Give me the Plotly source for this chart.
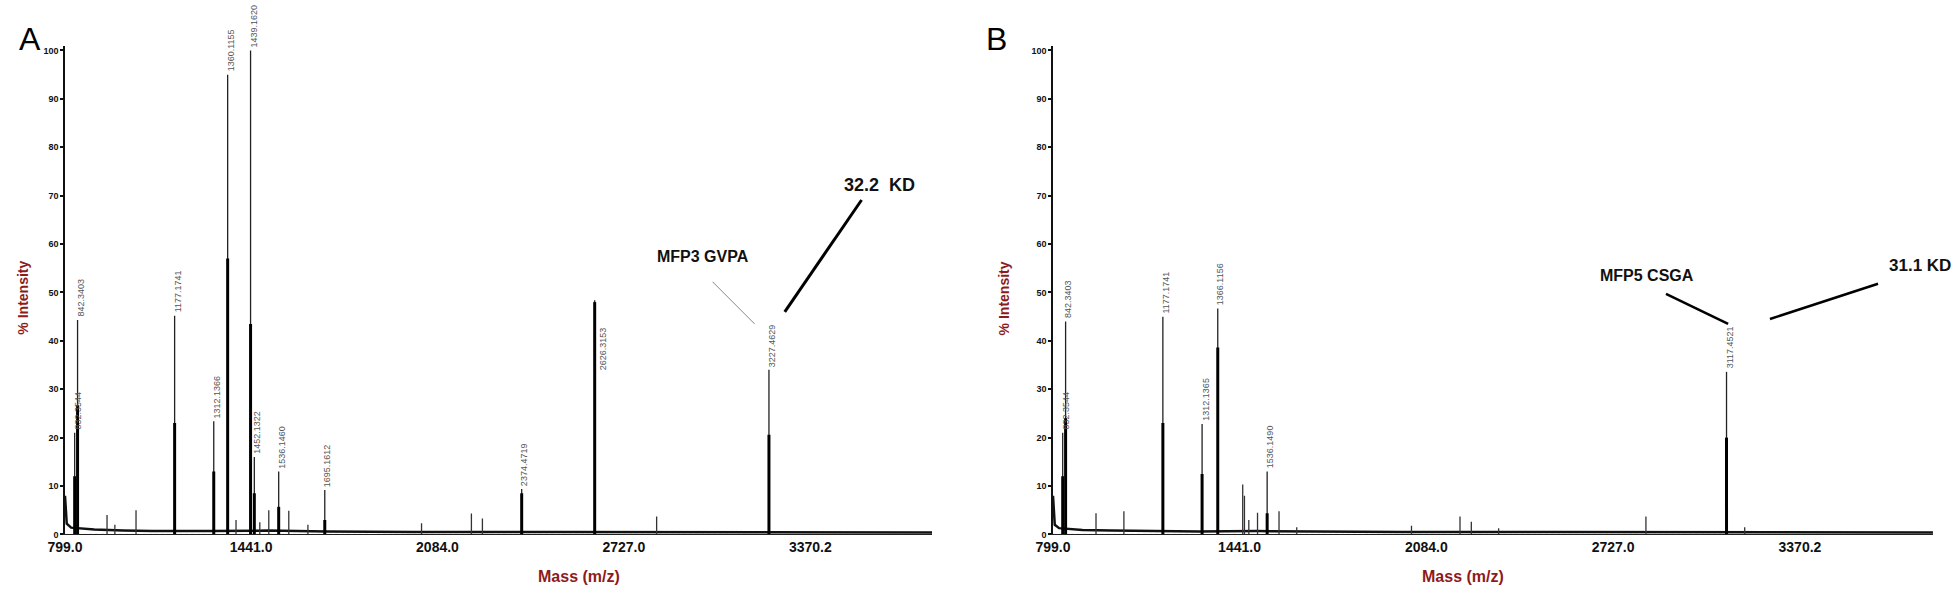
import plotly.graph_objects as go

# ---------------- data ----------------
# Panel A : labelled peaks (m/z, % intensity, intensity of thick core)
a_mass = [832.3544, 842.3403, 1177.1741, 1312.1366, 1360.1155, 1439.1620,
          1452.1322, 1536.1460, 1695.1612, 2374.4719, 2626.3153, 3227.4629]
a_height = [21, 44.3, 45.2, 23.4, 95, 100, 16, 13, 9.2, 9.4, 48.4, 34]
a_core = [12, 26.7, 23, 13, 57, 43.5, 8.5, 5.7, 3, 8.5, 48, 20.6]
a_labels = ["832.3544", "842.3403", "1177.1741", "1312.1366", "1360.1155",
            "1439.1620", "1452.1322", "1536.1460", "1695.1612", "2374.4719",
            "2626.3153", "3227.4629"]
# Panel A : small unlabelled peaks
a_minor_mass = [944, 971, 1044, 1389, 1471, 1502, 1571, 1637, 2029, 2201, 2239, 2840]
a_minor_height = [4, 2, 5, 3, 2.5, 5, 4.9, 2, 2.3, 4.3, 3.3, 3.7]

# Panel B
b_mass = [832.3544, 842.3403, 1177.1741, 1312.1365, 1366.1156, 1536.1490, 3117.4521]
b_height = [21, 44, 45, 22.8, 46.7, 13, 33.6]
b_core = [12, 24, 23, 12.5, 38.6, 4.4, 20]
b_labels = ["832.3544", "842.3403", "1177.1741", "1312.1365", "1366.1156",
            "1536.1490", "3117.4521"]
b_minor_mass = [947, 1043, 1452, 1458, 1473, 1503, 1577, 1638, 2033, 2200, 2239, 2333, 2840, 3180]
b_minor_height = [4.4, 4.8, 10.3, 8, 3, 4.5, 4.8, 1.5, 1.8, 3.7, 2.6, 1.3, 3.7, 1.5]

# baseline (chemical noise level)
base_mass = [799, 805, 820, 850, 900, 1000, 1100, 1300, 1500, 1700, 2000, 2500, 3000, 3500, 3830]
a_base = [8, 2.2, 1.4, 1.2, 1.0, 0.8, 0.7, 0.7, 0.8, 0.6, 0.5, 0.5, 0.5, 0.4, 0.4]
b_base = [8, 2.0, 1.3, 1.1, 0.9, 0.8, 0.7, 0.6, 0.7, 0.6, 0.5, 0.5, 0.5, 0.4, 0.4]

x_ticks = [799.0, 1441.0, 2084.0, 2727.0, 3370.2]
x_tick_text = ["799.0", "1441.0", "2084.0", "2727.0", "3370.2"]
y_ticks = [0, 10, 20, 30, 40, 50, 60, 70, 80, 90, 100]

# callouts: (text, text x, text y, line x0, y0, x1, y1, line width, line colour, font size)
a_callouts = [("MFP3 GVPA", 2999, 57.5, 3033, 52.2, 3178, 43.5, 1, "#888888", 16),
              ("32.2  KD", 3609, 72.2, 3547, 69.1, 3282, 46, 3, "#000000", 18)]
b_callouts = [("MFP5 CSGA", 2844, 53.5, 2909, 49.7, 3123, 43.5, 2.5, "#000000", 16),
              ("31.1 KD", 3784, 55.5, 3639, 51.8, 3267, 44.5, 2.5, "#000000", 17)]

RED = "#8e1b1b"

fig = go.Figure()


def stems(masses, heights):
    xs, ys = [], []
    for m, h in zip(masses, heights):
        xs += [m, m, None]
        ys += [0, h, None]
    return xs, ys


def add_panel(xa, ya, mass, height, core, minor_m, minor_h, base):
    fig.add_trace(go.Scatter(x=[base_mass[0], base_mass[-1]], y=[0, 0], mode="lines",
                             line=dict(color="#7a7fd0", width=1, dash="dot"),
                             xaxis=xa, yaxis=ya, hoverinfo="skip"))
    fig.add_trace(go.Scatter(x=base_mass, y=base, mode="lines",
                             line=dict(color="#111111", width=2.5),
                             xaxis=xa, yaxis=ya, hoverinfo="skip"))
    x, y = stems(minor_m, minor_h)
    fig.add_trace(go.Scatter(x=x, y=y, mode="lines", line=dict(color="#333333", width=1.3),
                             xaxis=xa, yaxis=ya, hoverinfo="skip"))
    x, y = stems(mass, height)
    fig.add_trace(go.Scatter(x=x, y=y, mode="lines", line=dict(color="#222222", width=1.3),
                             xaxis=xa, yaxis=ya, hoverinfo="skip"))
    x, y = stems(mass, core)
    fig.add_trace(go.Scatter(x=x, y=y, mode="lines", line=dict(color="#000000", width=3),
                             xaxis=xa, yaxis=ya, hoverinfo="skip"))


add_panel("x", "y", a_mass, a_height, a_core, a_minor_mass, a_minor_height, a_base)
add_panel("x2", "y2", b_mass, b_height, b_core, b_minor_mass, b_minor_height, b_base)

annotations = []
shapes = []
LABEL_FONT = dict(size=9, color="#555555", family="Liberation Sans Narrow, Arial")


def peak_labels(xref, yref, mass, height, labels):
    for m, h, t in zip(mass, height, labels):
        if t.startswith("2626"):
            annotations.append(dict(x=m, y=h - 10, xref=xref, yref=yref, text=t,
                                    textangle=-90, showarrow=False, xanchor="left",
                                    yanchor="middle", xshift=1, font=LABEL_FONT))
        else:
            annotations.append(dict(x=m, y=h, xref=xref, yref=yref, text=t,
                                    textangle=-90, showarrow=False, xanchor="center",
                                    yanchor="bottom", xshift=3, yshift=1, font=LABEL_FONT))


peak_labels("x", "y", a_mass, a_height, a_labels)
peak_labels("x2", "y2", b_mass, b_height, b_labels)


def callouts(xref, yref, items):
    for txt, tx, ty, x0, y0, x1, y1, w, c, fs in items:
        annotations.append(dict(x=tx, y=ty, xref=xref, yref=yref, text=txt, showarrow=False,
                                font=dict(size=fs, color="#111111", family="Arial", weight="bold")))
        shapes.append(dict(type="line", xref=xref, yref=yref, x0=x0, y0=y0, x1=x1, y1=y1,
                           line=dict(color=c, width=w)))


callouts("x", "y", a_callouts)
callouts("x2", "y2", b_callouts)

for letter, px in [("A", 0.0085), ("B", 0.509)]:
    annotations.append(dict(x=px, y=0.968, xref="paper", yref="paper", text=letter,
                            showarrow=False, font=dict(size=32, color="#000000", family="Arial")))
for px in [0.274, 0.769]:
    annotations.append(dict(x=px, y=0.035, xref="paper", yref="paper", text="Mass (m/z)",
                            showarrow=False,
                            font=dict(size=16, color=RED, family="Liberation Sans Narrow, Arial", weight="bold")))
for px in [0.0065, 0.5125]:
    annotations.append(dict(x=px, y=0.51, xref="paper", yref="paper", text="% Intensity",
                            textangle=-90, showarrow=False,
                            font=dict(size=14, color=RED, family="Liberation Sans Narrow, Arial", weight="bold")))

xcommon = dict(tickvals=x_ticks, ticktext=x_tick_text, showgrid=False, automargin=False,
               zeroline=False, showline=True, linecolor="#222222", linewidth=1, ticks="",
               tickfont=dict(size=14, color="#111111", family="Arial", weight="bold"))
ycommon = dict(range=[0, 101], tickvals=y_ticks, showgrid=False, zeroline=False, showline=True,
               automargin=False, linecolor="#111111", linewidth=1.5, ticks="outside", ticklen=3,
               tickwidth=1.5, tickcolor="#111111", domain=[0.121, 0.925],
               tickfont=dict(size=9, color="#111111", family="Arial", weight="bold"))

fig.update_layout(
    width=1958, height=608,
    margin=dict(l=0, r=0, t=0, b=0, autoexpand=False),
    paper_bgcolor="white", plot_bgcolor="white",
    showlegend=False,
    xaxis=dict(domain=[0.0332, 0.476], anchor="y", range=[799, 3790], **xcommon),
    yaxis=dict(anchor="x", **ycommon),
    xaxis2=dict(domain=[0.5378, 0.9872], anchor="y2", range=[799, 3828], **xcommon),
    yaxis2=dict(anchor="x2", **ycommon),
    annotations=annotations,
    shapes=shapes,
)

fig.write_html("out.html", config={"displayModeBar": False},
               post_script="document.body.style.margin='0px';document.body.style.overflow='hidden';")
